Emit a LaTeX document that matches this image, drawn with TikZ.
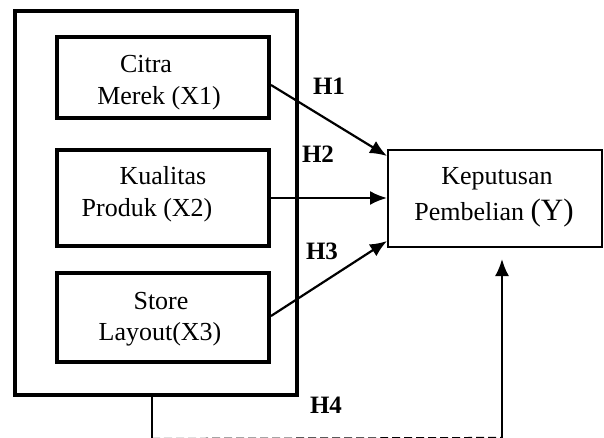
\documentclass[tikz,border=0pt]{standalone}
\usepackage{fontspec}
\setmainfont{Liberation Serif}
\usetikzlibrary{arrows.meta,calc}
\begin{document}
\begin{tikzpicture}[x=1pt,y=-1pt,
  thickbox/.style={draw,line width=4pt,inner sep=0pt},
  thinbox/.style={draw,line width=2pt,inner sep=0pt},
  txt/.style={anchor=base,inner sep=0pt,font=\fontsize{26}{30}\selectfont},
  hlab/.style={anchor=base,inner sep=0pt,font=\fontsize{25}{28}\selectfont\bfseries},
  arr/.style={line width=2.2pt,-{Latex[length=17pt,width=14pt]}},
  link/.style={line width=2.2pt}]
\useasboundingbox (0,0) rectangle (604,438);
% outer frame
\node[thickbox,minimum width=282pt,minimum height=384pt] (outer) at (156,203) {};
% inner boxes
\node[thickbox,minimum width=212pt,minimum height=81pt] (b1) at (163,77.5) {};
\node[thickbox,minimum width=212pt,minimum height=96pt] (b2) at (163,198) {};
\node[thickbox,minimum width=212pt,minimum height=89pt] (b3) at (163,317.5) {};
\node[thinbox,minimum width=214pt,minimum height=97pt] (y) at (495,198.5) {};
% texts
\node[txt] (t1a) at (146,73) {Citra};
\node[txt] (t1b) at (159,105) {Merek (X1)};
\node[txt] (t2a) at (163,185) {Kualitas};
\node[txt] (t2b) at (147,217) {Produk (X2)};
\node[txt] (t3a) at (161,309) {Store};
\node[txt] (t3b) at (160,340) {Layout(X3)};
\node[txt] (tya) at (497,185) {Keputusan};
\node[txt] (tyb) at (494,220) {Pembelian {\fontsize{31}{34}\selectfont(Y)}};
% hypothesis labels
\node[hlab] (h1) at (329,95) {H1};
\node[hlab] (h2) at (318,163) {H2};
\node[hlab] (h3) at (322,259) {H3};
\node[hlab] (h4) at (326,413) {H4};
% arrows
\draw[arr] ([yshift=-7.5pt]b1.east) -- ([yshift=-7pt]y.north west);
\draw[arr] (b2.east) -- (b2.east -| y.west);
\draw[arr] ([yshift=1.5pt]b3.east) -- ([yshift=7pt]y.south west);
% H4 path
\coordinate (c1) at ([xshift=-4pt]outer.south);
\coordinate (c2) at ($(c1)+(0,42)$);
\coordinate (c3) at ($(y.south)+(7,190)$);
\coordinate (c4) at ($(y.south)+(7,11)$);
\draw[link] (c1) -- (c2);
\draw[link,dash pattern=on 8pt off 4pt] (c2) -- (c3);
\draw[arr] (c3) -- (c4);
\end{tikzpicture}
\end{document}
